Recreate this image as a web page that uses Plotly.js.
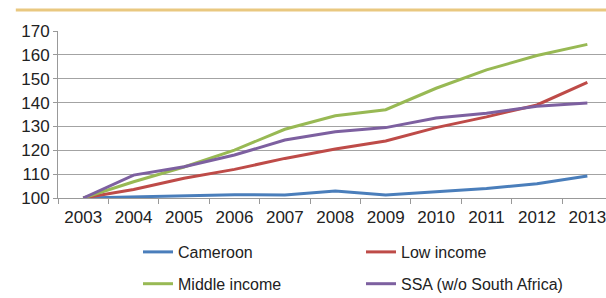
<!DOCTYPE html>
<html><head><meta charset="utf-8">
<script src="https://cdn.plot.ly/plotly-3.0.1.min.js"></script>
<style>html,body{margin:0;padding:0;background:#fff}#c{width:606px;height:298px}</style>
</head><body><div id="c"></div>
<script>
const years = ['2003','2004','2005','2006','2007','2008','2009','2010','2011','2012','2013'];
const cameroon = [100,100.5,100.7,101.4,101.3,102.9,101.3,102.5,104,106,109.2];
const lowIncome = [100,103.6,108.3,112,116.6,120.5,123.9,129.5,134,139,148.5];
const middleIncome = [100,106.8,113,120.1,128.8,134.5,137,146,153.7,159.7,164.4];
const ssa = [100,109.6,113.1,118,124.3,127.8,129.5,133.5,135.5,138.5,139.8];
const names = ['Cameroon','Low income','Middle income','SSA (w/o South Africa)'];
const colors = ['#4A7EBB','#BE4B48','#98B954','#7D60A0'];
const legendOf = ['legend','legend2','legend','legend2'];
const series = [cameroon, lowIncome, middleIncome, ssa];
const FONT = '"Liberation Sans", Arial, sans-serif';
const traces = series.map((s,i)=>({x:years,y:s,name:names[i],type:'scatter',mode:'lines',
  legend:legendOf[i],legendgroup:'g'+i,
  line:{color:colors[i],width:3}}));
const legBase = {xref:'container',yref:'container',xanchor:'left',yanchor:'top',
  y:1-235/298,traceorder:'grouped',tracegroupgap:8,itemwidth:30,bgcolor:'rgba(0,0,0,0)',
  font:{family:FONT,size:16,color:'#222'}};
const layout = {
  width:606,height:298,
  margin:{l:58,r:0,t:31,b:100,autoexpand:false},
  paper_bgcolor:'#fff',plot_bgcolor:'#fff',
  font:{family:FONT,size:17,color:'#222'},
  showlegend:true,
  legend:Object.assign({},legBase,{x:138/606}),
  legend2:Object.assign({},legBase,{x:361/606}),
  xaxis:{type:'category',range:[-0.5,10.37],tickson:'boundaries',ticks:'outside',ticklen:5,
    tickcolor:'#999',showline:true,linecolor:'#999',showgrid:false,ticklabelstandoff:4,
    tickfont:{family:FONT,size:17,color:'#222'},fixedrange:true},
  yaxis:{range:[100,170],dtick:10,tick0:100,ticks:'outside',ticklen:4,tickcolor:'#999',
    showline:true,linecolor:'#999',gridcolor:'#a3a3a3',gridwidth:1,zeroline:false,
    tickfont:{family:FONT,size:17,color:'#222'},fixedrange:true},
  shapes:[{type:'line',xref:'paper',yref:'paper',x0:-0.077,x1:1,y0:1.126,y1:1.126,
    line:{color:'#E9C880',width:3}}]
};
Plotly.newPlot('c',traces,layout,{displayModeBar:false,staticPlot:true});
</script></body></html>
